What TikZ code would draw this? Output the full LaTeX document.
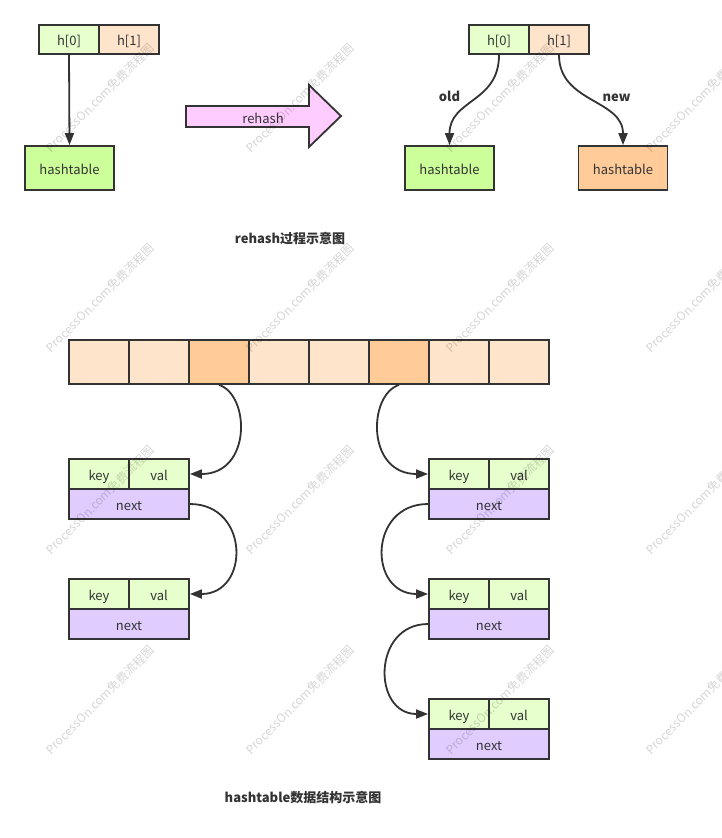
\documentclass[tikz,border=0pt]{standalone}
\usepackage{fontspec}
\setmainfont{Noto Sans CJK SC}
\usetikzlibrary{arrows.meta}
\definecolor{ink}{HTML}{333333}
\definecolor{lgreen}{HTML}{E6FFCC}
\definecolor{dgreen}{HTML}{CCFF99}
\definecolor{lorange}{HTML}{FFE4CC}
\definecolor{dorange}{HTML}{FFCC99}
\definecolor{lpurple}{HTML}{E0CCFF}
\definecolor{lpink}{HTML}{FFCCFF}
\begin{document}
\begin{tikzpicture}[x=1pt,y=-1pt,
  txt/.style={text=ink,font=\fontsize{13}{15}\selectfont,text height=12.2pt,text depth=0pt},
  box/.style={txt,draw=ink,line width=1.8pt,inner sep=0pt},
  half/.style={box,minimum width=60pt,minimum height=29pt},
  tbl/.style={box,minimum width=89pt,minimum height=44pt},
  cell/.style={box,minimum width=60pt,minimum height=44pt},
  kv/.style={box,minimum width=60pt,minimum height=30pt,fill=lgreen},
  nx/.style={box,minimum width=120pt,minimum height=30pt,fill=lpurple},
  link/.style={draw=ink,line width=1.8pt,-{Triangle[length=12pt,width=9pt]}},
  lbl/.style={txt,font=\fontsize{13}{15}\selectfont\bfseries},
  wm/.style={text=black,text opacity=0.16,rotate=45,font=\fontsize{12}{14}\selectfont}
]
\useasboundingbox (0,0) rectangle (721,838);
\fill[white] (0,0) rectangle (721,838);

% ---- rehash: before
\node[half,fill=lgreen] (a0) at (69,39.5) {h[0]};
\node[half,fill=lorange] (a1) at (129,39.5) {h[1]};
\node[tbl,fill=dgreen] (aht) at (69.5,168) {hashtable};
\draw[link] (a0.south) -- (aht.north);

% ---- big arrow
\draw[ink,line width=1.8pt,fill=lpink,line join=miter]
  (186,106) -- (309,106) -- (309,85) -- (341,116) -- (309,147) -- (309,127) -- (186,127) -- cycle;
\node[txt] (rh) at (263,117) {rehash};

% ---- rehash: after
\node[half,fill=lgreen] (b0) at (499,39.5) {h[0]};
\node[half,fill=lorange] (b1) at (559,39.5) {h[1]};
\node[tbl,fill=dgreen] (bht0) at (449.5,168) {hashtable};
\node[tbl,fill=dorange] (bht1) at (623,168) {hashtable};
\draw[link] (b0.south) .. controls +(0,48) and +(0,-46) .. (bht0.north);
\draw[link] (b1.south) .. controls +(0,48) and +(0,-46) .. (bht1.north);
\node[lbl] (old) at (449.5,95) {old};
\node[lbl] (new) at (616.5,95) {new};
\node[lbl] (t1) at (290,237) {rehash过程示意图};

% ---- hashtable array
\foreach \i/\c in {1/lorange,2/lorange,3/dorange,4/lorange,5/lorange,6/dorange,7/lorange,8/lorange}
  \node[cell,fill=\c] (c\i) at ({39+60*\i},362) {};

% ---- left chain
\node[kv] (lk1) at (99,474) {key};
\node[kv] (lv1) at (159,474) {val};
\node[nx] (ln1) at (129,504) {next};
\node[kv] (lk2) at (99,594) {key};
\node[kv] (lv2) at (159,594) {val};
\node[nx] (ln2) at (129,624) {next};

% ---- right chain
\node[kv] (rk1) at (459,474) {key};
\node[kv] (rv1) at (519,474) {val};
\node[nx] (rn1) at (489,504) {next};
\node[kv] (rk2) at (459,594) {key};
\node[kv] (rv2) at (519,594) {val};
\node[nx] (rn2) at (489,624) {next};
\node[kv] (rk3) at (459,714) {key};
\node[kv] (rv3) at (519,714) {val};
\node[nx] (rn3) at (489,744) {next};

\draw[link] (c3.south) .. controls +(31,10) and +(62,0) .. (lv1.east);
\draw[link] (c6.south) .. controls +(-31,10) and +(-62,0) .. (rk1.west);
\draw[link] (ln1.east) .. controls +(60,0) and +(60,0) .. (lv2.east);
\draw[link] (rn1.west) .. controls +(-60,0) and +(-60,0) .. (rk2.west);
\draw[link] (rn2.west) .. controls +(-56,0) and +(-56,0) .. (rk3.west);

\node[lbl] (t2) at (303,796) {hashtable数据结构示意图};

% ---- watermark
\foreach \x in {100,300,500,700}
  \foreach \y in {98,298,500,700}
    \node[wm] (wm-\x-\y) at (\x,\y) {ProcessOn.com免费流程图};
\end{tikzpicture}
\end{document}
